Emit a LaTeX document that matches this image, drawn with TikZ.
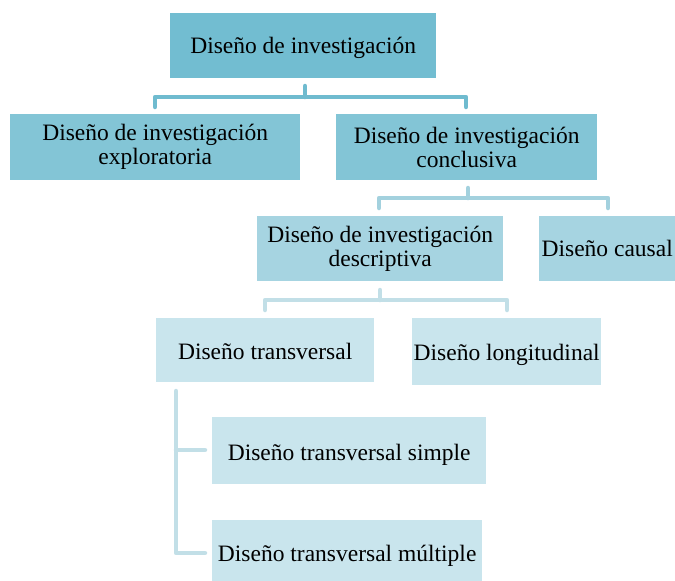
\documentclass[tikz,border=0pt]{standalone}
\usepackage{fontspec}
\setmainfont{Liberation Serif}
\definecolor{cA}{HTML}{72BDD1}
\definecolor{cB}{HTML}{83C5D6}
\definecolor{cC}{HTML}{A6D4E1}
\definecolor{cD}{HTML}{C9E5ED}
\definecolor{lA}{HTML}{6FBBCF}
\definecolor{lB}{HTML}{A3D1DE}
\definecolor{lC}{HTML}{C2DFE7}
\begin{document}
\begin{tikzpicture}[x=1pt,y=-1pt,
  box/.style={anchor=north west,inner sep=0pt,align=center,font=\fontsize{23.5}{24}\selectfont},
  lower/.style={text height=#1pt,text depth=2.5pt},
  conn/.style={line width=4.5pt,line cap=round,line join=round}]
\useasboundingbox (0,0) rectangle (675,581);
% boxes
\node[box,lower=18,fill=cA,minimum width=266pt,minimum height=65pt] (top) at (170,13) {Diseño de investigación};
\node[box,fill=cB,minimum width=290pt,minimum height=66pt] (expl) at (10,114) {Diseño de investigación\\exploratoria};
\node[box,fill=cB,minimum width=261pt,minimum height=66pt] (concl) at (336,114) {Diseño de investigación\\conclusiva};
\node[box,fill=cC,minimum width=246pt,minimum height=65pt] (desc) at (257,216) {Diseño de investigación\\descriptiva};
\node[box,fill=cC,minimum width=136pt,minimum height=65pt] (caus) at (539,216) {Diseño causal};
\node[box,lower=21,fill=cD,minimum width=218pt,minimum height=64pt] (trans) at (156,318) {Diseño transversal};
\node[box,lower=20,fill=cD,minimum width=189pt,minimum height=67pt] (long) at (412,318) {Diseño longitudinal};
\node[box,lower=22,fill=cD,minimum width=274pt,minimum height=67pt] (simp) at (212,417) {Diseño transversal simple};
\node[box,lower=24,fill=cD,minimum width=270pt,minimum height=61pt] (mult) at (212,520) {Diseño transversal múltiple};
% connector points
\coordinate (t1) at (305,86);
\coordinate (t2) at (305,97);
\coordinate (t3) at (155,107);
\coordinate (t4) at (466,107);
\draw[conn,lA] (t1) -- (t2);
\draw[conn,lA] (t3) -- (155,97) -- (466,97) -- (t4);
\coordinate (c1) at (468,188);
\coordinate (c2) at (468,198);
\draw[conn,lB] (c1) -- (c2);
\draw[conn,lB] (379,208) -- (379,198) -- (608,198) -- (608,208);
\coordinate (d1) at (380,290);
\coordinate (d2) at (380,300);
\draw[conn,lC] (d1) -- (d2);
\draw[conn,lC] (265,310) -- (265,300) -- (507,300) -- (507,310);
\coordinate (e1) at (176,391);
\draw[conn,lC] (e1) -- (176,553) -- (205,553);
\draw[conn,lC] (176,450) -- (205,450);
\end{tikzpicture}
\end{document}
